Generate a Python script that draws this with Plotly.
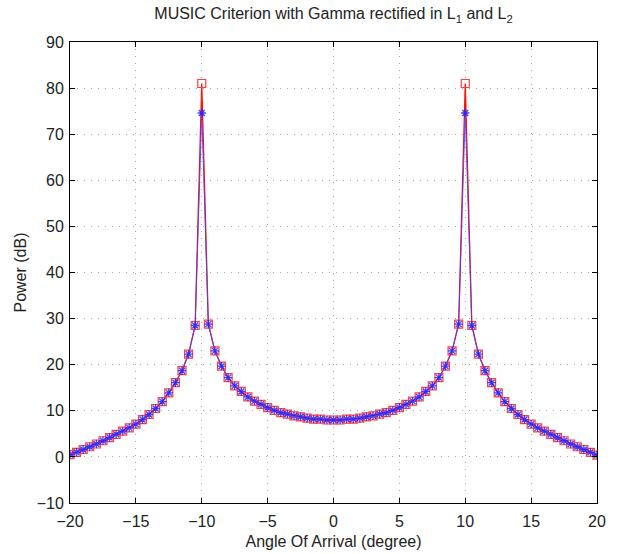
import plotly.graph_objects as go

angles = [-20.0, -19.5, -19.0, -18.5, -18.0, -17.5, -17.0, -16.5, -16.0, -15.5,
          -15.0, -14.5, -14.0, -13.5, -13.0, -12.5, -12.0, -11.5, -11.0, -10.5,
          -10.0,
          -9.5, -9.0, -8.5, -8.0, -7.5, -7.0, -6.5, -6.0, -5.5, -5.0,
          -4.5, -4.0, -3.5, -3.0, -2.5, -2.0, -1.5, -1.0, -0.5,
          0.0,
          0.5, 1.0, 1.5, 2.0, 2.5, 3.0, 3.5, 4.0, 4.5,
          5.0, 5.5, 6.0, 6.5, 7.0, 7.5, 8.0, 8.5, 9.0, 9.5,
          10.0,
          10.5, 11.0, 11.5, 12.0, 12.5, 13.0, 13.5, 14.0, 14.5, 15.0,
          15.5, 16.0, 16.5, 17.0, 17.5, 18.0, 18.5, 19.0, 19.5, 20.0]

power_l1 = [0.5, 1.0, 1.6, 2.2, 2.8, 3.5, 4.2, 4.9, 5.6, 6.3,
            7.1, 8.1, 9.2, 10.5, 12.0, 13.9, 16.1, 18.7, 22.3, 28.5,
            81.0,
            28.8, 23.0, 19.7, 17.2, 15.4, 14.2, 13.0, 12.1, 11.4, 10.7,
            10.1, 9.6, 9.3, 8.9, 8.7, 8.4, 8.2, 8.2, 8.0,
            8.0,
            8.0, 8.2, 8.2, 8.4, 8.7, 8.9, 9.3, 9.6, 10.1,
            10.7, 11.4, 12.1, 13.0, 14.2, 15.4, 17.2, 19.7, 23.0, 28.8,
            81.0,
            28.5, 22.3, 18.7, 16.1, 13.9, 12.0, 10.5, 9.2, 8.1, 7.1,
            6.3, 5.6, 4.9, 4.2, 3.5, 2.8, 2.2, 1.6, 1.0, 0.4]

power_l2 = [0.5, 1.0, 1.6, 2.2, 2.8, 3.5, 4.2, 4.9, 5.6, 6.3,
            7.1, 8.1, 9.2, 10.5, 12.0, 13.9, 16.1, 18.7, 22.3, 28.5,
            74.6,
            28.8, 23.0, 19.7, 17.2, 15.4, 14.2, 13.0, 12.1, 11.4, 10.7,
            10.1, 9.6, 9.3, 8.9, 8.7, 8.4, 8.2, 8.2, 8.0,
            8.0,
            8.0, 8.2, 8.2, 8.4, 8.7, 8.9, 9.3, 9.6, 10.1,
            10.7, 11.4, 12.1, 13.0, 14.2, 15.4, 17.2, 19.7, 23.0, 28.8,
            74.6,
            28.5, 22.3, 18.7, 16.1, 13.9, 12.0, 10.5, 9.2, 8.1, 7.1,
            6.3, 5.6, 4.9, 4.2, 3.5, 2.8, 2.2, 1.6, 1.0, 0.4]

x_ticks = [-20, -15, -10, -5, 0, 5, 10, 15, 20]
y_ticks = [-10, 0, 10, 20, 30, 40, 50, 60, 70, 80, 90]

FONT = "Liberation Sans, Arial, Helvetica"

fig = go.Figure()
fig.add_trace(go.Scatter(
    x=angles, y=power_l1, mode="lines+markers",
    line=dict(color="#ff1010", width=1.3),
    marker=dict(symbol="square-open", size=8, color="#ff4040",
                line=dict(width=1.2, color="#ff4040")),
    showlegend=False))
fig.add_trace(go.Scatter(
    x=angles, y=power_l2, mode="lines+markers",
    line=dict(color="#4040ff", width=1),
    marker=dict(symbol="asterisk-open", size=7, color="#2020ff",
                line=dict(width=1.3, color="#2020ff")),
    opacity=0.85,
    showlegend=False))

axis_common = dict(
    showline=True, linecolor="black", linewidth=1, mirror="ticks",
    ticks="inside", ticklen=5, tickcolor="black", automargin=False,
    showgrid=True, gridcolor="#a8a8a8", griddash="1px,6px", gridwidth=1,
    zeroline=False, tickfont=dict(family=FONT, size=16, color="#222"),
)

fig.update_xaxes(range=[-20, 20], tickvals=x_ticks,
                 ticktext=[str(v).replace("-", "\u2212") for v in x_ticks],
                 ticklabelstandoff=4,
                 title=dict(text="Angle Of Arrival (degree)", standoff=6,
                            font=dict(family=FONT, size=16, color="#222")),
                 **axis_common)
fig.update_yaxes(range=[-10, 90], tickvals=y_ticks,
                 ticktext=[str(v).replace("-", "\u2212") for v in y_ticks],
                 ticklabelstandoff=2,
                 title=dict(text="Power (dB)", standoff=6,
                            font=dict(family=FONT, size=16, color="#222")),
                 **axis_common)

fig.update_layout(
    width=626, height=554,
    margin=dict(l=70, r=29, t=42, b=51),
    paper_bgcolor="white", plot_bgcolor="white",
    title=dict(text="MUSIC Criterion with Gamma rectified in L<sub>1</sub> and L<sub>2</sub>",
               xref="paper", x=0.5, xanchor="center",
               yref="container", y=0.975, yanchor="middle",
               font=dict(family=FONT, size=16, color="#222")),
    font=dict(family=FONT, size=16, color="#222"),
)

fig.write_html("out.html", config={"displayModeBar": False},
               post_script="document.body.style.margin='0';")
